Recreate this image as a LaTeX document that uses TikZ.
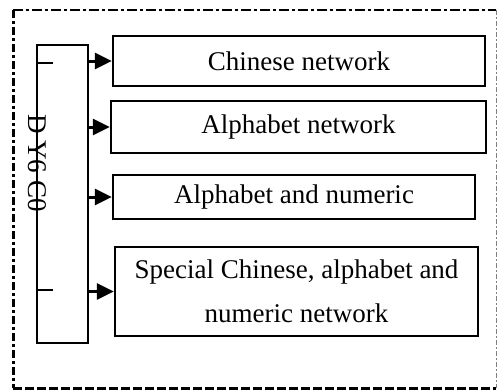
\documentclass[tikz,border=0pt]{standalone}
\usepackage{fontspec}
\setmainfont{Liberation Serif}
\usetikzlibrary{arrows.meta, positioning}

\begin{document}
\begin{tikzpicture}[
    x=1pt, y=-1pt,
    >={Triangle[length=17pt, width=16pt]},
    netbox/.style={rectangle, draw, line width=2.4pt, inner sep=0pt, align=center, font=\fontsize{27}{44}\selectfont},
    arrow/.style={->, line width=3pt},
    frame/.style={line width=1.6pt}
]
\useasboundingbox (0,0) rectangle (498,391);

% === Marco exterior ===
\draw[frame, dash pattern=on 10pt off 3pt on 3pt off 3pt] (13,10) -- (496,10);
\draw[line width=3pt, dash pattern=on 8pt off 3pt on 3pt off 3pt] (13,10) -- (13,388);
\draw[line width=3pt, dash pattern=on 9pt off 3pt] (13,388) -- (496,388);
\draw[line width=0.8pt, gray, dash pattern=on 5pt off 2pt on 2pt off 2pt] (496,10) -- (496,388);

% === Barra ===
\node[rectangle, draw, line width=2pt, minimum width=51pt, minimum height=298pt, inner sep=0pt] (bar) at (62.5,194) {};
\coordinate (tickA) at (53,63);
\coordinate (tickB) at (53,290);
\draw[line width=2pt] (bar.west |- tickA) -- (tickA);
\draw[line width=2pt] (bar.west |- tickB) -- (tickB);
\node[rotate=-90, font=\fontsize{27}{30}\selectfont] (code) at (37,163) {D Y6 C0};

% === Redes ===
\node[netbox, minimum width=372pt, minimum height=50pt] (chinese) at (299,61) {Chinese network};
\node[netbox, minimum width=375pt, minimum height=52pt] (alpha) at (298.5,127) {Alphabet network};
\node[netbox, minimum width=362pt, minimum height=44pt] (alnum) at (294,197) {Alphabet and numeric};
\node[netbox, minimum width=363pt, minimum height=89pt] (special) at (296.5,291.5) {Special Chinese, alphabet and\\numeric network};

% === Flechas ===
\draw[arrow] (bar.east |- chinese.west) -- (chinese.west);
\draw[arrow] (bar.east |- alpha.west) -- (alpha.west);
\draw[arrow] (bar.east |- alnum.west) -- (alnum.west);
\draw[arrow] (bar.east |- special.west) -- (special.west);

\end{tikzpicture}
\end{document}
